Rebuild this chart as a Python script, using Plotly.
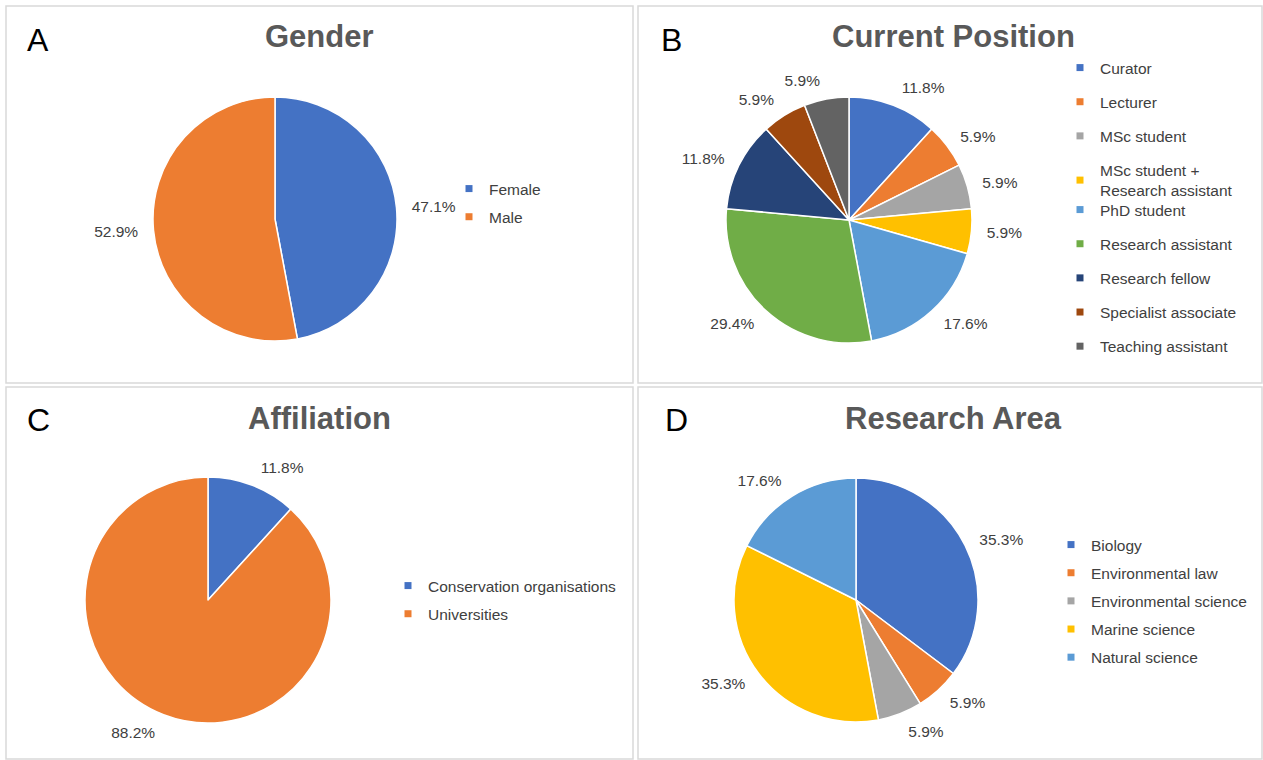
import plotly.graph_objects as go

W, H = 1263, 760

# Survey results (counts, n = 17)
gender_labels = ["Female", "Male"]
gender_counts = [8, 9]

position_labels = ["Curator", "Lecturer", "MSc student", "MSc student +<br>Research assistant",
                   "PhD student", "Research assistant", "Research fellow",
                   "Specialist associate", "Teaching assistant"]
position_counts = [2, 1, 1, 1, 3, 5, 2, 1, 1]

affiliation_labels = ["Conservation organisations", "Universities"]
affiliation_counts = [2, 15]

area_labels = ["Biology", "Environmental law", "Environmental science",
               "Marine science", "Natural science"]
area_counts = [6, 1, 1, 6, 3]

palette = ["#4472C4", "#ED7D31", "#A5A5A5", "#FFC000", "#5B9BD5",
           "#70AD47", "#264478", "#9E480E", "#636363"]

FONT = "Liberation Sans, Arial, sans-serif"
TXT = "#404040"
FS = 15.5
LABEL_GAP = 11  # extra distance of the percentage labels from the pie edge

fig = go.Figure()


def px_x(x):
    return x / W


def px_y(y):
    return 1 - y / H


def square_domain(cx, cy, r):
    return dict(x=[px_x(cx - r), px_x(cx + r)], y=[px_y(cy + r), px_y(cy - r)])


def add_pie(labels, values, cx, cy, r, legend_groups):
    common = dict(labels=labels, values=values, sort=False, direction="clockwise",
                  rotation=0, showlegend=False)
    # the pie itself
    fig.add_trace(go.Pie(
        **common,
        marker=dict(colors=palette[:len(values)], line=dict(color="white", width=1.5)),
        textinfo="none", hovertemplate="%{label}: %{percent:.1%}<extra></extra>",
        domain=square_domain(cx, cy, r),
    ))
    # transparent companion ring that carries the percentage labels a little further out
    fig.add_trace(go.Pie(
        **common,
        marker=dict(colors=["rgba(0,0,0,0)"] * len(values), line=dict(width=0)),
        texttemplate="%{percent:.1%}", textposition="outside",
        textfont=dict(family=FONT, size=FS, color=TXT),
        hoverinfo="skip",
        domain=square_domain(cx, cy, r + LABEL_GAP),
    ))
    # legend entries, one group per slice so the spacing can be set
    for lg, (lx, ly, gap), idxs in legend_groups:
        for i in idxs:
            fig.add_trace(go.Scatter(
                x=[None], y=[None], mode="markers", name=labels[i],
                marker=dict(symbol="square", size=7, color=palette[i]),
                legend=lg, legendgroup=f"{lg}_{i}", showlegend=True, hoverinfo="skip",
            ))
        fig.update_layout({lg: dict(
            x=px_x(lx), y=px_y(ly), xanchor="left", yanchor="top",
            bgcolor="rgba(0,0,0,0)", tracegroupgap=gap, itemclick=False,
            font=dict(family=FONT, size=FS, color=TXT),
        )})


add_pie(gender_labels, gender_counts, 275, 219, 122,
        [("legend", (449, 172, 5), [0, 1])])
add_pie(position_labels, position_counts, 849, 220, 123,
        [("legend2", (1060, 51, 11), [0, 1, 2, 3]),
         ("legend3", (1060, 193, 11), [4, 5, 6, 7, 8])])
add_pie(affiliation_labels, affiliation_counts, 208, 600, 123,
        [("legend4", (388, 569, 5), [0, 1])])
add_pie(area_labels, area_counts, 856, 600, 122,
        [("legend5", (1051, 528, 5), [0, 1, 2, 3, 4])])

# panel frames
shapes = []
for x0, y0, x1, y1 in [(6, 6, 633, 383), (638, 6, 1262, 383),
                       (6, 387, 633, 759), (638, 387, 1262, 759)]:
    shapes.append(dict(type="rect", xref="paper", yref="paper",
                       x0=px_x(x0), x1=px_x(x1), y0=px_y(y1), y1=px_y(y0),
                       line=dict(color="#D9D9D9", width=1.5), fillcolor="rgba(0,0,0,0)"))

annotations = []
for text, x, y in [("Gender", 320, 37), ("Current Position", 953, 37),
                   ("Affiliation", 320, 418), ("Research Area", 953, 418)]:
    annotations.append(dict(text=f"<b>{text}</b>", x=px_x(x), y=px_y(y), xref="paper", yref="paper",
                            xanchor="center", yanchor="middle", showarrow=False,
                            font=dict(family=FONT, size=31, color="#595959")))
for text, x, y in [("A", 38, 40), ("B", 671, 40), ("C", 38, 420), ("D", 676, 420)]:
    annotations.append(dict(text=text, x=px_x(x), y=px_y(y), xref="paper", yref="paper",
                            xanchor="center", yanchor="middle", showarrow=False,
                            font=dict(family=FONT, size=32, color="black")))

fig.update_layout(
    width=W, height=H, margin=dict(l=0, r=0, t=0, b=0),
    paper_bgcolor="white", plot_bgcolor="white",
    xaxis=dict(visible=False), yaxis=dict(visible=False),
    shapes=shapes, annotations=annotations,
)

fig.write_html("out.html")
